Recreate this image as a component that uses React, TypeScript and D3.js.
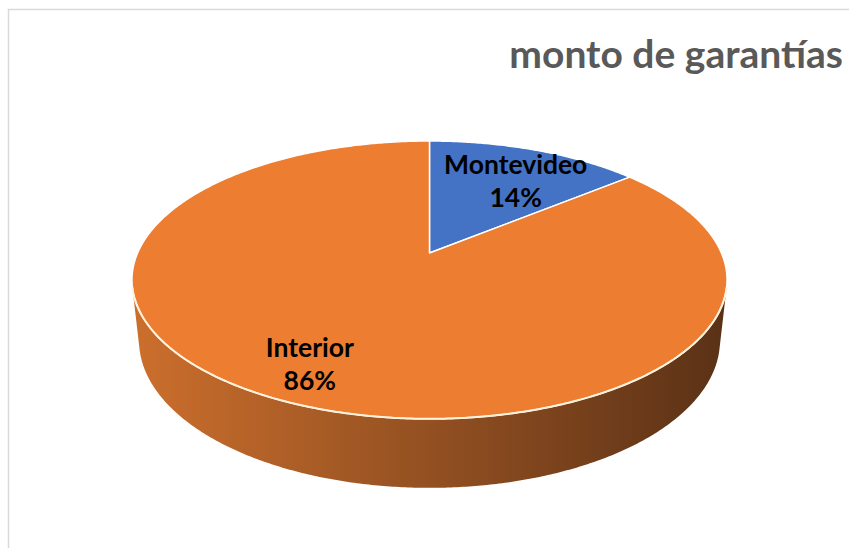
import React from "react";
import * as d3 from "d3";

const categories = ["Montevideo", "Interior"];
const values = [14, 86];
const sliceColors = ["#4472C4", "#ED7D31"];
const sideLight = ["#3a62a8", "#cc6f2d"];
const sideDark = ["#1f3a66", "#5a3116"];
const title = "monto de garantías";

const W = 849;
const H = 548;
const CX = 429.5;
const CY = 253;
const TILT = Math.asin(0.458);
const R = 0.218;
const F = 1339;
const DEPTH = 0.0514;
const LABEL_RHO = 0.8;
const labelDx = [-1, -4];
const labelDy = [15, 0];

function project(theta: number, rho: number, y: number): [number, number] {
  const s = Math.sin(TILT);
  const c = Math.cos(TILT);
  const X = R * rho * Math.sin(theta);
  const Z = R * rho * Math.cos(theta);
  const up = Z * s + y * c;
  const dep = 1 + Z * c - y * s;
  return [CX + (F * X) / dep, CY - (F * up) / dep];
}

function arcPoints(a0: number, a1: number, y: number): [number, number][] {
  const n = Math.max(2, Math.ceil(Math.abs(a1 - a0) / (Math.PI / 360)));
  const pts: [number, number][] = [];
  for (let i = 0; i <= n; i++) {
    const t = a0 + ((a1 - a0) * i) / n;
    pts.push(project(t, 1, y));
  }
  return pts;
}

export default function App() {
  const pie = d3
    .pie<number>()
    .sort(null)
    .startAngle(0)
    .endAngle(2 * Math.PI)(values);
  const total = d3.sum(values);
  const line = d3.line();

  const thA = Math.acos(-R / Math.cos(TILT));
  const thB = 2 * Math.PI - thA;

  const apex = project(0, 0, 0);

  const sides = pie
    .map((p, i) => {
      const lo = Math.max(p.startAngle, thA);
      const hi = Math.min(p.endAngle, thB);
      if (hi <= lo) return null;
      const top = arcPoints(lo, hi, 0);
      const bot = arcPoints(hi, lo, -DEPTH);
      return { i, d: line([...top, ...bot])! + "Z" };
    })
    .filter(Boolean) as { i: number; d: string }[];

  const tops = pie.map((p, i) => {
    const pts = arcPoints(p.startAngle, p.endAngle, 0);
    return { i, d: line([apex, ...pts])! + "Z" };
  });

  const rim = line(arcPoints(thA, thB, 0))!;

  const labels = pie.map((p, i) => {
    const mid = (p.startAngle + p.endAngle) / 2;
    const [x, y] = project(mid, LABEL_RHO, 0);
    return {
      x: x + labelDx[i],
      y: y + labelDy[i],
      name: categories[i],
      pct: d3.format(".0%")(values[i] / total),
    };
  });

  const [left, right] = d3.extent(arcPoints(0, 2 * Math.PI, 0).map((q) => q[0])) as [number, number];

  return (
    <svg
      width={W}
      height={H}
      style={{ position: "absolute", left: 0, top: 0, display: "block" }}
      fontFamily="Lato, 'Open Sans', sans-serif"
    >
      <defs>
        {sliceColors.map((_, i) => (
          <linearGradient key={i} id={`side${i}`} gradientUnits="userSpaceOnUse" x1={left} x2={right} y1={0} y2={0}>
            <stop offset="0%" stopColor={sideLight[i]} />
            <stop offset="100%" stopColor={sideDark[i]} />
          </linearGradient>
        ))}
      </defs>
      <rect x={0} y={0} width={W} height={H} fill="#ffffff" />
      <path d={`M8.5,${H} L8.5,9.5 L${W},9.5`} fill="none" stroke="#d9d9d9" strokeWidth={1.5} />
      <text x={843} y={68} textAnchor="end" fontSize={39} fontWeight="bold" fill="#595959">
        {title}
      </text>
      {sides.map((s) => (
        <path key={`s${s.i}`} d={s.d} fill={`url(#side${s.i})`} />
      ))}
      {tops.map((t) => (
        <path
          key={`t${t.i}`}
          d={t.d}
          fill={sliceColors[t.i]}
          stroke="#ffffff"
          strokeWidth={1.5}
          strokeLinejoin="round"
        />
      ))}
      <path d={rim} fill="none" stroke="#fff2dc" strokeWidth={2} />
      {labels.map((l, i) => (
        <text key={`l${i}`} x={l.x} textAnchor="middle" fontSize={26.5} fontWeight="bold" fill="#000000">
          <tspan x={l.x} y={l.y - 9}>
            {l.name}
          </tspan>
          <tspan x={l.x} y={l.y + 24}>
            {l.pct}
          </tspan>
        </text>
      ))}
    </svg>
  );
}
